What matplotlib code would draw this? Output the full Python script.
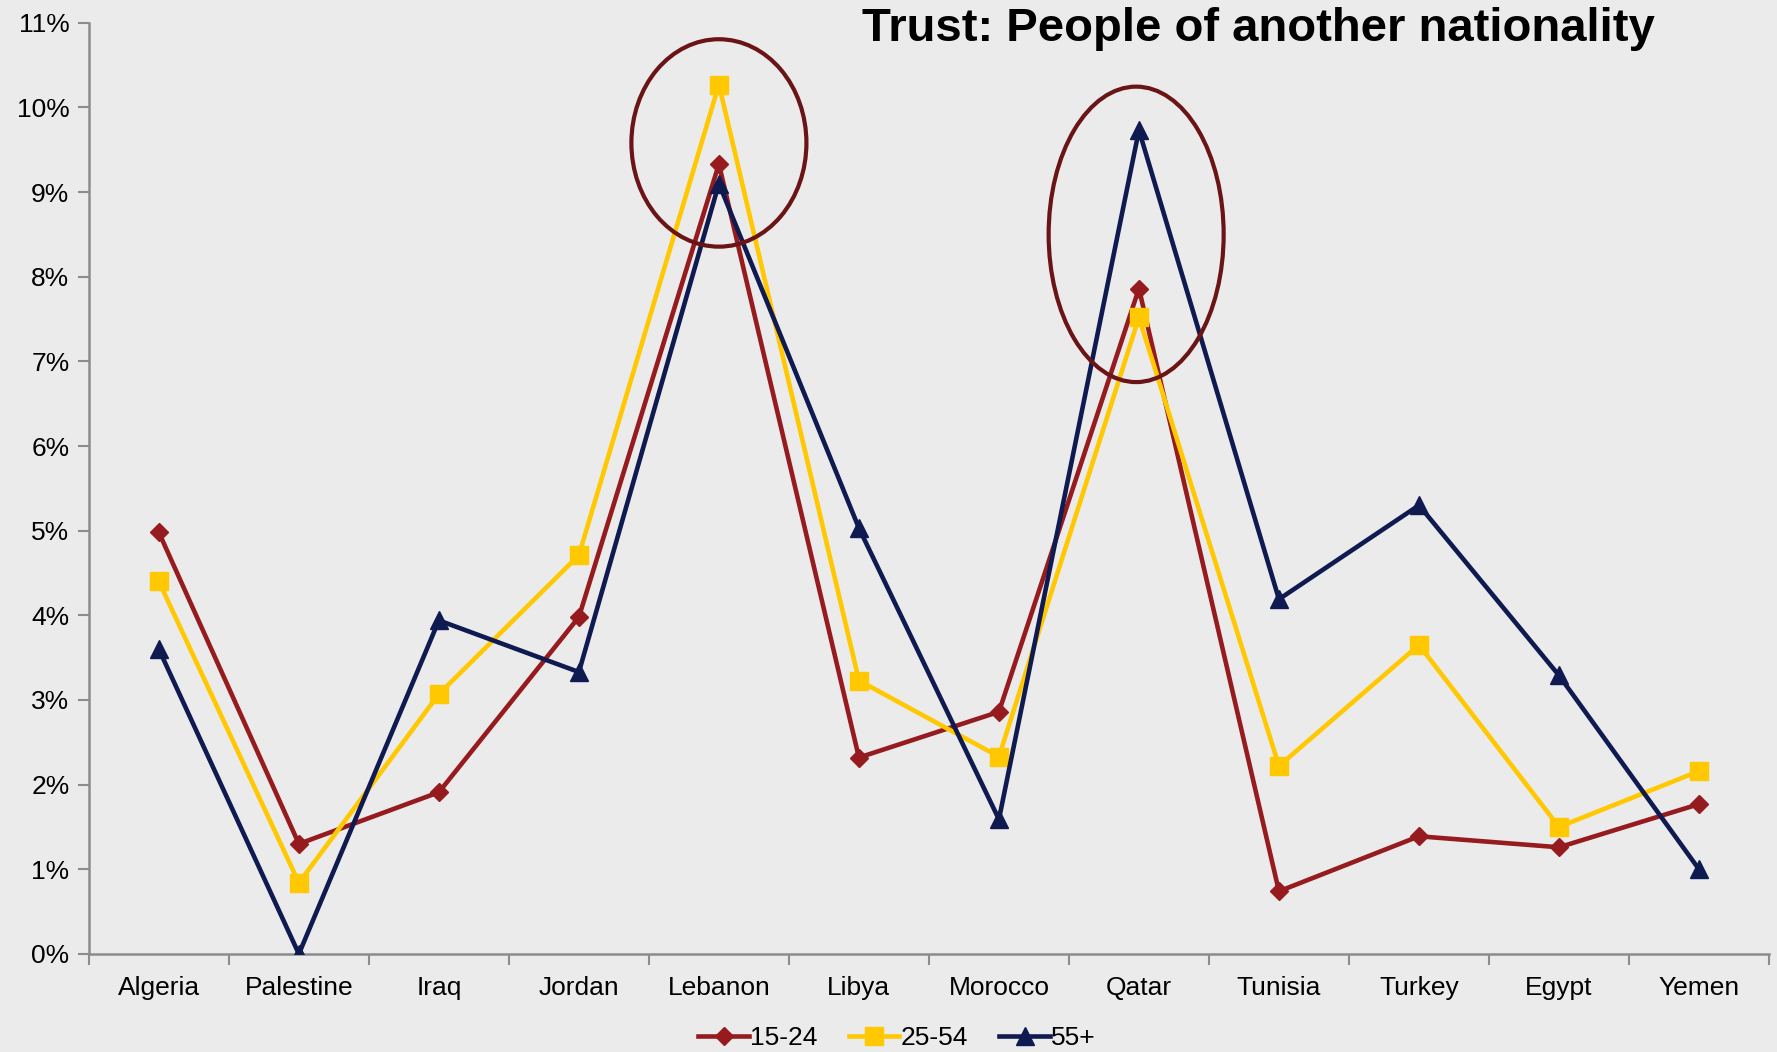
import numpy as np
import matplotlib.pyplot as plt
from matplotlib.patches import Ellipse
from matplotlib.ticker import FuncFormatter, FixedLocator

plt.rcParams['font.family'] = ['Liberation Sans', 'DejaVu Sans']

countries = ["Algeria", "Palestine", "Iraq", "Jordan", "Lebanon", "Libya",
             "Morocco", "Qatar", "Tunisia", "Turkey", "Egypt", "Yemen"]

age_15_24 = [4.98, 1.30, 1.91, 3.98, 9.33, 2.32, 2.86, 7.86, 0.74, 1.39, 1.26, 1.77]
age_25_54 = [4.40, 0.84, 3.07, 4.71, 10.27, 3.23, 2.33, 7.52, 2.22, 3.65, 1.50, 2.16]
age_55_up = [3.60, 0.00, 3.94, 3.33, 9.10, 5.03, 1.59, 9.73, 4.19, 5.30, 3.29, 1.00]

series_names = ["15-24", "25-54", "55+"]

# highlighted peaks: (category index, centre %, height %)
highlights = [(4.0, 9.58, 2.45), (6.98, 8.50, 3.49)]

bg = "#EBEBEB"
colors = ["#961B1F", "#FFC800", "#0E1A50"]
markers = ["D", "s", "^"]
msizes = [9, 13, 13]

fig = plt.figure(figsize=(17.77, 10.52), dpi=100, facecolor=bg)
ax = fig.add_axes([0.050, 0.0932, 0.9455, 0.8852], facecolor=bg)

x = np.arange(len(countries))
for vals, name, c, m, ms in zip([age_15_24, age_25_54, age_55_up],
                                series_names, colors, markers, msizes):
    ax.plot(x, vals, color=c, lw=3.3, marker=m, markersize=ms,
            markeredgecolor=c, label=name, zorder=3)

for cx, cy, h in highlights:
    ax.add_patch(Ellipse((cx, cy), 1.25, h, fill=False,
                         edgecolor="#6B1416", lw=3, zorder=4))

ax.set_xlim(-0.5, len(countries) - 0.5)
ax.set_ylim(0, 11)

ax.set_xticks(x)
ax.set_xticklabels(countries, fontsize=19)
ax.xaxis.set_minor_locator(FixedLocator(np.arange(-0.5, len(countries), 1)))
ax.tick_params(axis='x', which='major', length=0, pad=16)
ax.tick_params(axis='x', which='minor', length=8, width=1.5, color="#8C8C8C")

ax.set_yticks(np.arange(0, 12, 1))
ax.yaxis.set_major_formatter(FuncFormatter(lambda v, p: "%d%%" % v))
ax.tick_params(axis='y', length=8, width=1.5, color="#8C8C8C", labelsize=19, pad=6)

for s in ["top", "right"]:
    ax.spines[s].set_visible(False)
for s in ["left", "bottom"]:
    ax.spines[s].set_color("#8C8C8C")
    ax.spines[s].set_linewidth(1.8)

fig.text(0.708, 0.972, "Trust: People of another nationality",
         fontsize=34, fontweight='bold', ha='center', va='center')

ax.legend(loc='lower center', bbox_to_anchor=(0.481, -0.103), ncol=3,
          frameon=False, fontsize=19, handlelength=1.9, handletextpad=0.05,
          columnspacing=1.2, borderaxespad=0, borderpad=0)

fig.savefig("out.png", dpi=100, facecolor=bg)
